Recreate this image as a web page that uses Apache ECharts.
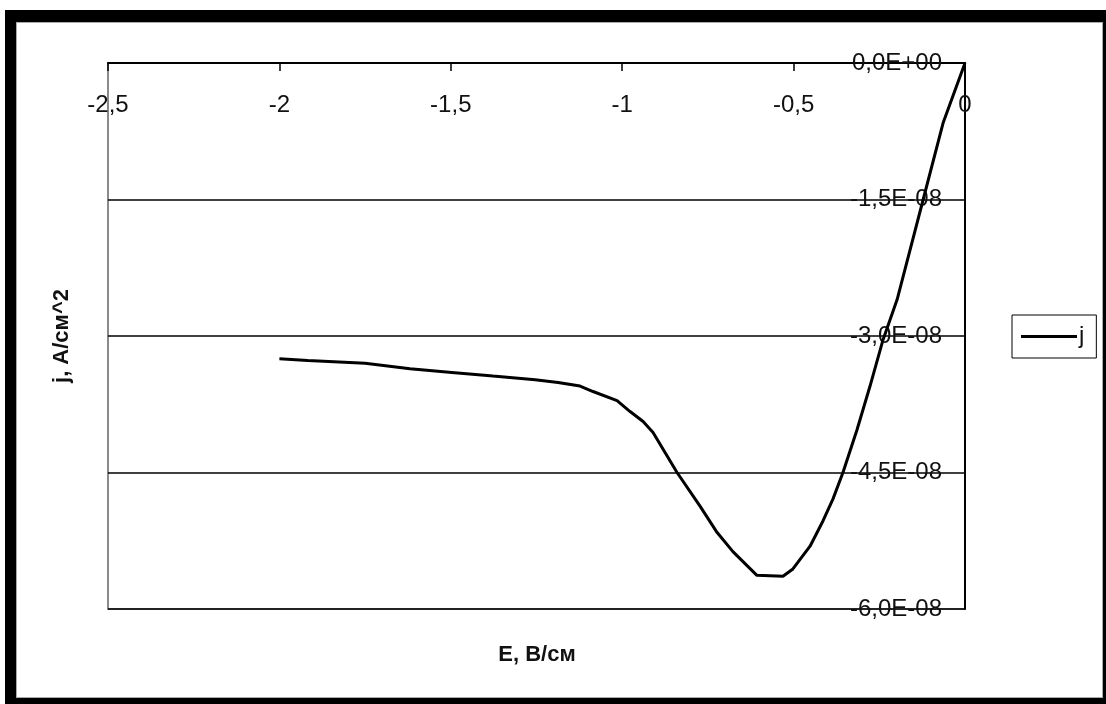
<!DOCTYPE html>
<html>
<head>
<meta charset="utf-8">
<script src="https://cdn.jsdelivr.net/npm/echarts@6/dist/echarts.min.js"></script>
<style>
html, body { margin: 0; padding: 0; background: #fff; width: 1106px; height: 704px; overflow: hidden; }
#frame { position: absolute; left: 5px; top: 10px; width: 1101px; height: 694px; box-sizing: border-box;
  border-style: solid; border-color: #000; border-width: 12px 3px 6px 11px; }
#inner { position: absolute; left: 16px; top: 22px; width: 1087px; height: 676px; box-sizing: border-box; border: 1px solid #aaa; }
#chart { position: absolute; left: 0; top: 0; width: 1106px; height: 704px; }
</style>
</head>
<body>
<div id="frame"></div>
<div id="inner"></div>
<div id="chart"></div>
<script>
// Potential E (В/см) and current density j (А/см^2)
const E = [-2.0, -1.917, -1.75, -1.619, -1.497, -1.377, -1.254, -1.187, -1.123, -1.085,
  -1.015, -0.977, -0.939, -0.91, -0.84, -0.773, -0.723, -0.677, -0.607, -0.531,
  -0.502, -0.452, -0.414, -0.385, -0.356, -0.315, -0.277, -0.239, -0.198, -0.122, -0.064, 0.0];
const J = [-3.25e-8, -3.27e-8, -3.30e-8, -3.36e-8, -3.40e-8, -3.44e-8, -3.48e-8, -3.51e-8, -3.55e-8, -3.61e-8,
  -3.71e-8, -3.83e-8, -3.94e-8, -4.06e-8, -4.50e-8, -4.87e-8, -5.16e-8, -5.37e-8, -5.63e-8, -5.64e-8,
  -5.56e-8, -5.31e-8, -5.03e-8, -4.79e-8, -4.50e-8, -4.03e-8, -3.55e-8, -3.04e-8, -2.60e-8, -1.50e-8, -0.66e-8, 0];
const seriesName = 'j';
const xTickValues = [-2.5, -2, -1.5, -1, -0.5, 0];
const xTickLabels = ['-2,5', '-2', '-1,5', '-1', '-0,5', '0'];
const yTickValues = [0, -1.5e-8, -3.0e-8, -4.5e-8, -6.0e-8];
const yTickLabels = ['0,0E+00', '-1,5E-08', '-3,0E-08', '-4,5E-08', '-6,0E-08'];
const xTitle = 'E, В/см';
const yTitle = 'j, А/см^2';

function lookup(vals, labels, v) {
  for (let i = 0; i < vals.length; i++) {
    if (Math.abs(vals[i] - v) < Math.abs(vals[0] - vals[1]) * 1e-3) return labels[i];
  }
  return '';
}

const FONT = '"Liberation Sans", Arial, sans-serif';
const chart = echarts.init(document.getElementById('chart'), null, { renderer: 'canvas' });
chart.setOption({
  animation: false,
  backgroundColor: 'transparent',
  grid: { left: 108, right: 141, top: 63, bottom: 95, show: true, borderColor: '#8a8a8a', borderWidth: 2, backgroundColor: 'transparent' },
  legend: {
    data: [seriesName], left: 1012, top: 315, orient: 'vertical',
    icon: 'rect', itemWidth: 56, itemHeight: 3, itemGap: 0,
    borderColor: '#000', borderWidth: 1, padding: [9, 12, 9, 9],
    textStyle: { fontFamily: FONT, fontSize: 24, color: '#111', lineHeight: 25, padding: [0, 0, 0, -3] }
  },
  xAxis: {
    type: 'value', position: 'top', min: -2.5, max: 0, interval: 0.5,
    axisLine: { onZero: false, lineStyle: { color: '#000', width: 2 } },
    axisTick: { inside: true, length: 8, lineStyle: { color: '#000', width: 1.5 } },
    axisLabel: { inside: true, margin: 30, fontFamily: FONT, fontSize: 24, color: '#111',
      formatter: v => lookup(xTickValues, xTickLabels, v) },
    splitLine: { show: false }
  },
  yAxis: {
    type: 'value', position: 'right', min: -6e-8, max: 0, interval: 1.5e-8,
    axisLine: { onZero: false, lineStyle: { color: '#000', width: 2 } },
    axisTick: { show: false },
    axisLabel: { inside: true, margin: 23, fontFamily: FONT, fontSize: 24, color: '#111',
      formatter: v => lookup(yTickValues, yTickLabels, v) },
    splitLine: { show: true, lineStyle: { color: '#000', width: 1.5 } }
  },
  graphic: [
    { type: 'text', x: 537, y: 655,
      style: { text: xTitle, font: 'bold 22px ' + FONT, fill: '#111', align: 'center', verticalAlign: 'middle' } },
    { type: 'text', x: 62, y: 336, rotation: Math.PI / 2,
      style: { text: yTitle, font: 'bold 22px ' + FONT, fill: '#111', align: 'center', verticalAlign: 'middle' } }
  ],
  series: [{
    name: seriesName, type: 'line', showSymbol: false, symbol: 'none', smooth: false,
    lineStyle: { color: '#000', width: 3 }, itemStyle: { color: '#000' },
    data: E.map((e, i) => [e, J[i]])
  }]
});
</script>
</body>
</html>
